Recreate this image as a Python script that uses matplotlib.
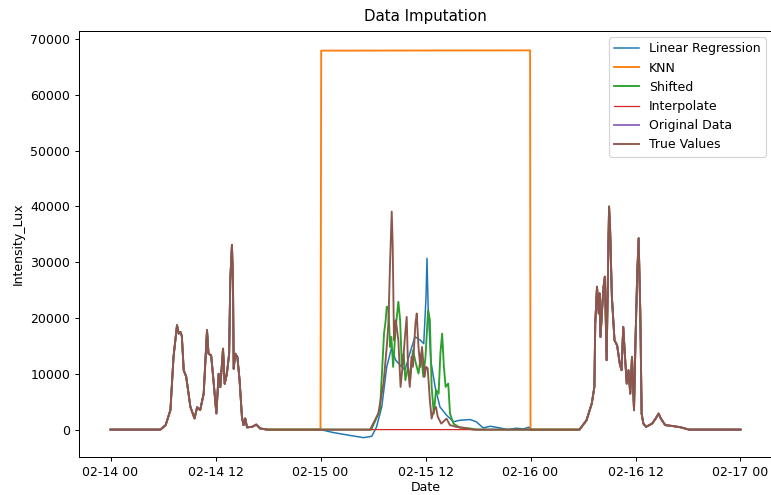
import matplotlib
matplotlib.use('Agg')
import matplotlib.pyplot as plt
import matplotlib.dates as mdates
import numpy as np
import pandas as pd

# 起始时间（年份未知，取2023）
start = pd.Timestamp('2023-02-14 00:00')

# 真实值: 小时数（相对02-14 00）与光照强度
true_hours = [0, 5.7, 6.3, 6.85, 7.2, 7.6, 7.8, 7.99, 8.15, 8.37, 8.65, 9.13, 9.6, 9.9, 10.25,
              10.65, 11.03, 11.2, 11.5, 11.7, 12.1, 12.36, 12.55, 12.86, 13.05, 13.3, 13.56,
              13.69, 13.88, 14.0, 14.08, 14.26, 14.5, 14.75, 15.02, 15.2, 15.4, 15.6, 16.2,
              16.66, 17.1, 17.9,
              29.67, 30.6, 31.2, 31.57, 31.76, 31.95, 32.14, 32.25, 32.4, 32.6, 32.9, 33.15,
              33.45, 33.65, 33.85, 34.0, 34.2, 34.4, 34.56, 34.85, 35.0, 35.2, 35.4, 35.6,
              35.9, 36.06, 36.25, 36.5, 36.7, 36.95, 37.2, 37.4, 37.8, 38.4, 38.8, 39.5,
              40.3, 41.4,
              53.6, 54.4, 55.0, 55.3, 55.4, 55.6, 55.8, 55.9, 56.0, 56.2, 56.35, 56.5, 56.7,
              56.9, 56.98, 57.1, 57.3, 57.6, 57.9, 58.2, 58.4, 58.6, 58.8, 59.0, 59.2, 59.4,
              59.6, 59.83, 60.0, 60.2, 60.36, 60.55, 60.7, 60.9, 61.2, 61.9, 62.3, 62.64,
              62.9, 63.4, 64.2, 65.2, 66.1, 72]
true_vals = [0, 0, 800, 3500, 13000, 18700, 17200, 17500, 16800, 10600, 9500, 4060, 2000, 4000,
             3500, 6450, 17800, 13600, 13300, 10000, 2900, 10000, 7600, 14500, 8200, 10000,
             13600, 26800, 33100, 26000, 10900, 13600, 13000, 8900, 2300, 800, 2000, 400, 500,
             900, 200, 0,
             0, 2850, 8250, 14800, 19000, 29800, 39060, 33100, 16000, 19600, 16000, 7650,
             12440, 16630, 20200, 11240, 7650, 13040, 11240, 19000, 20800, 14800, 11240,
             14800, 9450, 11240, 11000, 5260, 1970, 3450, 4060, 2300, 1070, 1970, 800, 500,
             350, 0,
             0, 1670, 4660, 7650, 19000, 25600, 20800, 24400, 16600, 22000, 25600, 27400,
             12440, 32800, 39960, 35780, 23800, 16000, 15100, 11840, 10640, 18400, 13040,
             8250, 10640, 6450, 13040, 3460, 16000, 28000, 34280, 20800, 2850, 1070, 500,
             1070, 1970, 2870, 1970, 800, 650, 400, 0, 0]

# 缺失区间 02-15 00 ~ 02-16 00
gap_start, gap_end = 24.0, 48.0

# 线性回归填补值
lr_hours = [24.0, 25.5, 27.4, 28.9, 29.86, 30.4, 31.0, 31.57, 32.1, 32.6, 33.1, 33.66, 34.2,
            34.8, 35.4, 35.8, 36.06, 36.17, 36.3, 36.6, 37.1, 37.65, 38.4, 39.2, 39.9, 41.1,
            41.8, 42.6, 43.4, 44.5, 45.4, 46.4, 47.2, 47.8, 48.0]
lr_vals = [0, -540, -1050, -1440, -1200, 470, 4060, 11240, 14540, 12440, 11540, 10640, 13640,
           16630, 16030, 15400, 23800, 30700, 22000, 12400, 7650, 4060, 2600, 1400, 1670, 1800,
           1400, 300, 600, 300, 0, 250, 100, 450, 0]

# KNN填补值
knn_hours = [24.0, 24.08, 47.95, 48.0]
knn_vals = [0, 67900, 67950, 0]

# 平移填补值
sh_hours = [24.0, 29.8, 30.8, 31.26, 31.45, 31.57, 31.76, 31.95, 32.1, 32.3, 32.6, 32.9, 33.1,
            33.3, 33.5, 33.7, 34.0, 34.25, 34.56, 34.9, 35.2, 35.5, 35.75, 36.0, 36.3, 36.5,
            36.7, 36.95, 37.2, 37.5, 37.7, 37.9, 38.1, 38.3, 38.6, 38.8, 39.2, 39.9, 41.1,
            41.8, 48.0]
sh_vals = [0, 0, 3500, 17200, 19600, 22000, 22000, 14800, 16600, 11240, 18400, 22900, 19600,
           11240, 13640, 8850, 11240, 8850, 14200, 11840, 10040, 13640, 9450, 13040, 21400,
           19600, 7650, 2850, 7060, 6450, 13640, 17200, 11240, 7650, 8250, 2850, 1070, 350,
           200, 0, 0]

# 插值填补值
ip_hours = [24.0, 48.0]
ip_vals = [0, 0]


def to_time(hours):
    return start + pd.to_timedelta(np.asarray(hours, dtype=float), unit='h')


th = np.array(true_hours)
tv = np.array(true_vals, dtype=float)
orig_v = tv.copy()
orig_v[(th > gap_start) & (th < gap_end)] = np.nan


def fill(hours, vals):
    # 缺失区间外取原始数据，区间内取填补值
    mask_before = th < gap_start
    mask_after = th > gap_end
    h = np.concatenate([th[mask_before], hours, th[mask_after]])
    v = np.concatenate([tv[mask_before], vals, tv[mask_after]])
    return to_time(h), v


fig = plt.figure(figsize=(771 / 90, 495 / 90), dpi=90)
ax = fig.add_axes([79 / 771, 1 - 457 / 495, 693 / 771, 426 / 495])

ax.plot(*fill(lr_hours, lr_vals), color='#1f77b4', lw=1.2, label='Linear Regression')
ax.plot(*fill(knn_hours, knn_vals), color='#ff7f0e', label='KNN')
ax.plot(*fill(sh_hours, sh_vals), color='#2ca02c', label='Shifted')
ax.plot(*fill(ip_hours, ip_vals), color='#d62728', lw=1.0, label='Interpolate')
ax.plot(to_time(th), orig_v, color='#9467bd', label='Original Data')
ax.plot(to_time(th), tv, color='#8c564b', label='True Values')

ax.xaxis.set_major_locator(mdates.HourLocator(byhour=[0, 12]))
ax.xaxis.set_major_formatter(mdates.DateFormatter('%m-%d %H'))
ax.set_xlabel('Date', labelpad=2)
ax.set_ylabel('Intensity_Lux')
ax.set_title('Data Imputation', pad=8)
ax.legend(loc='upper right')

fig.savefig('out.png', dpi=90)
